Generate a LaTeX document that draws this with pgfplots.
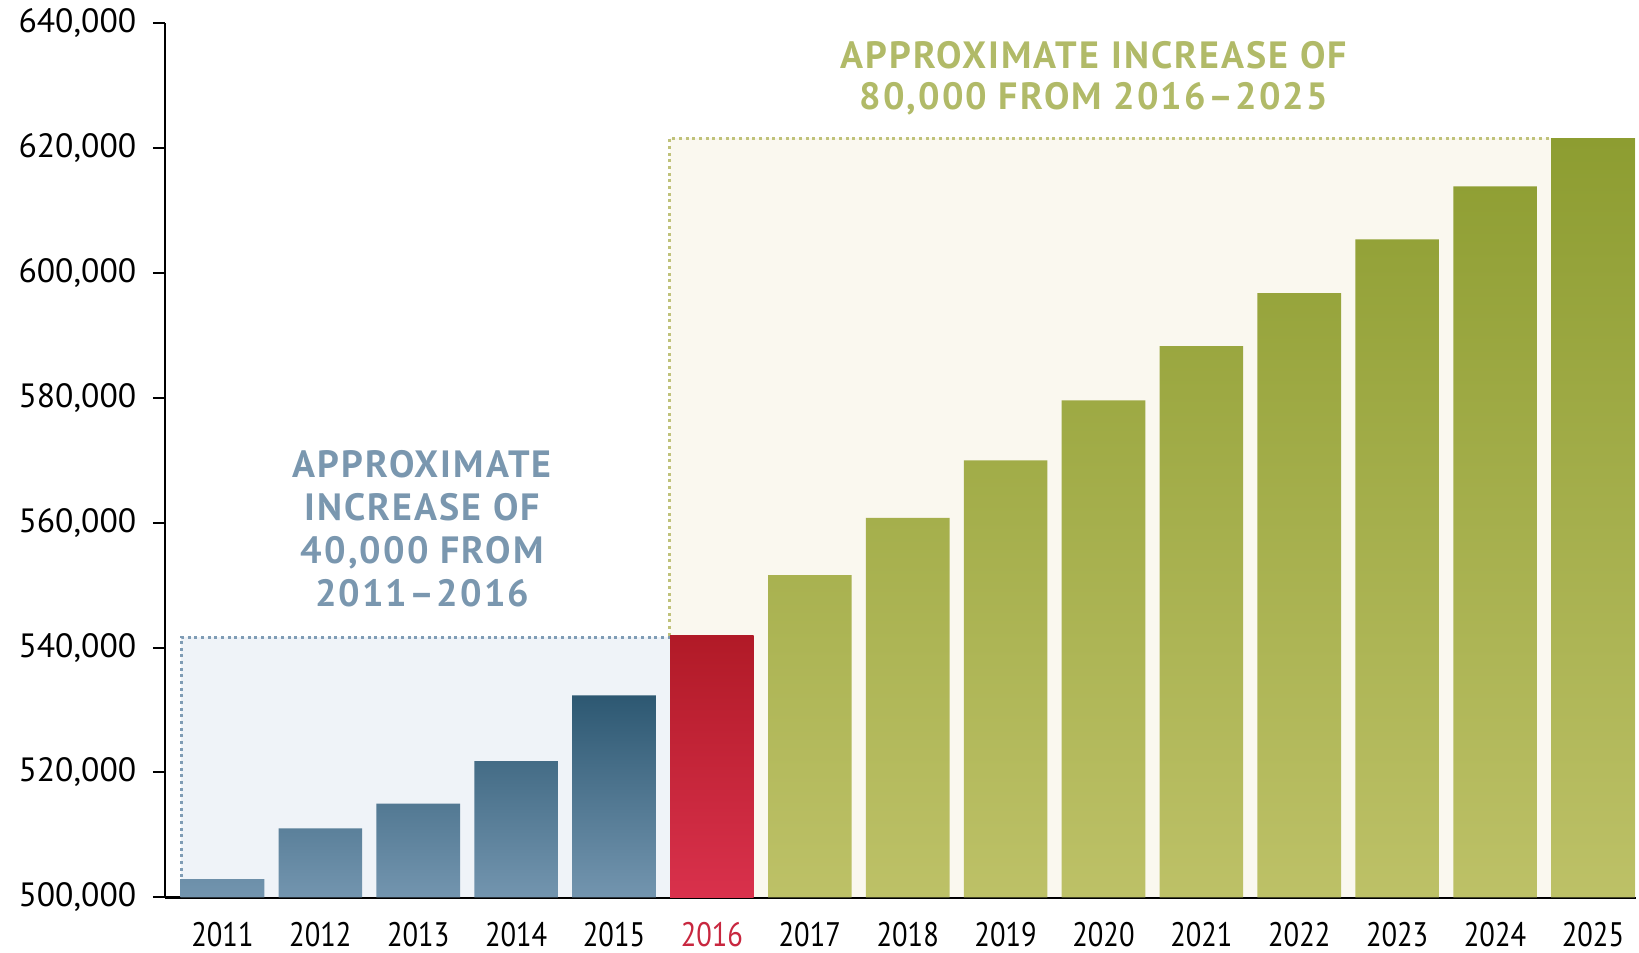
\documentclass[border=0pt]{standalone}
\usepackage{fontspec}
\setmainfont{PT Sans}
\newfontfamily\yearfont{PT Sans}[FakeStretch=0.84]
\newfontfamily\annfont{PT Sans}[LetterSpace=5.5]
\usepackage{pgfplots}
\pgfplotsset{compat=1.18}
\definecolor{blueTop}{HTML}{2D5872}
\definecolor{blueBot}{HTML}{7395AF}
\definecolor{redTop}{HTML}{B11A27}
\definecolor{redBot}{HTML}{D9314C}
\definecolor{grnTop}{HTML}{8D9D31}
\definecolor{grnBot}{HTML}{BDC167}
\definecolor{blueBg}{HTML}{EFF3F8}
\definecolor{creamBg}{HTML}{FAF8EF}
\definecolor{blueDot}{HTML}{7F9CB5}
\definecolor{grnDot}{HTML}{C0C27A}
\definecolor{blueTxt}{HTML}{7A97AF}
\definecolor{grnTxt}{HTML}{B1BA68}
\definecolor{redLbl}{HTML}{C8273F}
\begin{document}
\begin{tikzpicture}
\begin{axis}[
  name=ax,
  scale only axis, width=441.3pt, height=262.2pt,
  xmin=-0.587, xmax=14.44, ymin=0, ymax=140000,
  clip=false,
  axis x line*=bottom, axis y line*=left,
  axis line style={black, line width=0.7pt, -},
  xtick={0,...,14},
  xticklabels={2011,2012,2013,2014,2015,{\textcolor{redLbl}{2016}},2017,2018,2019,2020,2021,2022,2023,2024,2025},
  x tick label style={font=\yearfont\fontsize{10.2}{12}\selectfont, yshift=-0.3pt},
  major x tick style={draw=none},
  ytick={0,20000,40000,60000,80000,100000,120000,140000},
  yticklabels={{500,000},{520,000},{540,000},{560,000},{580,000},{600,000},{620,000},{640,000}},
  y tick label style={font=\fontsize{10.1}{12}\selectfont, xshift=-1.5pt},
  tick align=outside, major tick length=3.6pt,
  y tick style={black, line width=0.6pt},
]
% highlighted regions
\fill[creamBg] (axis cs:4.57,0) rectangle (axis cs:14.44,121600);
\fill[blueBg] (axis cs:-0.42,0) rectangle (axis cs:4.57,41700);
\draw[blueDot, line width=0.9pt, dash pattern=on 0.9pt off 1.1pt] (axis cs:-0.42,0) -- (axis cs:-0.42,41700) -- (axis cs:4.57,41700);
\draw[grnDot, line width=0.9pt, dash pattern=on 0.9pt off 1.1pt] (axis cs:4.57,41900) -- (axis cs:4.57,121600) -- (axis cs:13.57,121600);
% bars
\addplot[ybar, bar width=0.854, bar shift=0pt, draw=none, top color=blueTop, bottom color=blueBot,
  y filter/.expression={y-500000}] coordinates {
  (0,502900) (1,511050) (2,515000) (3,521800) (4,532350)};
\addplot[ybar, bar width=0.854, bar shift=0pt, draw=none, top color=redTop, bottom color=redBot,
  y filter/.expression={y-500000}] coordinates {
  (5,541950)};
\addplot[ybar, bar width=0.854, bar shift=0pt, draw=none, top color=grnTop, bottom color=grnBot,
  y filter/.expression={y-500000}] coordinates {
  (6,551600) (7,560800) (8,570000) (9,579600) (10,588300) (11,596800) (12,605400) (13,613900) (14,621600)};
% annotations
\node[align=center, text=blueTxt, font=\annfont\bfseries\fontsize{11.4}{12.9}\selectfont] at (axis cs:2.04,59000)
  {APPROXIMATE\\INCREASE OF\\40,000 FROM\\2011–2016};
\node[align=center, text=grnTxt, font=\annfont\bfseries\fontsize{11.4}{12.5}\selectfont] at (axis cs:8.9,131200)
  {APPROXIMATE INCREASE OF\\80,000 FROM 2016–2025};
\end{axis}
\pgfresetboundingbox
\path[use as bounding box] ([xshift=-49.5pt,yshift=-16.5pt]ax.south west) rectangle ([xshift=0.9pt,yshift=7.0pt]ax.north east);
\end{tikzpicture}
\end{document}
